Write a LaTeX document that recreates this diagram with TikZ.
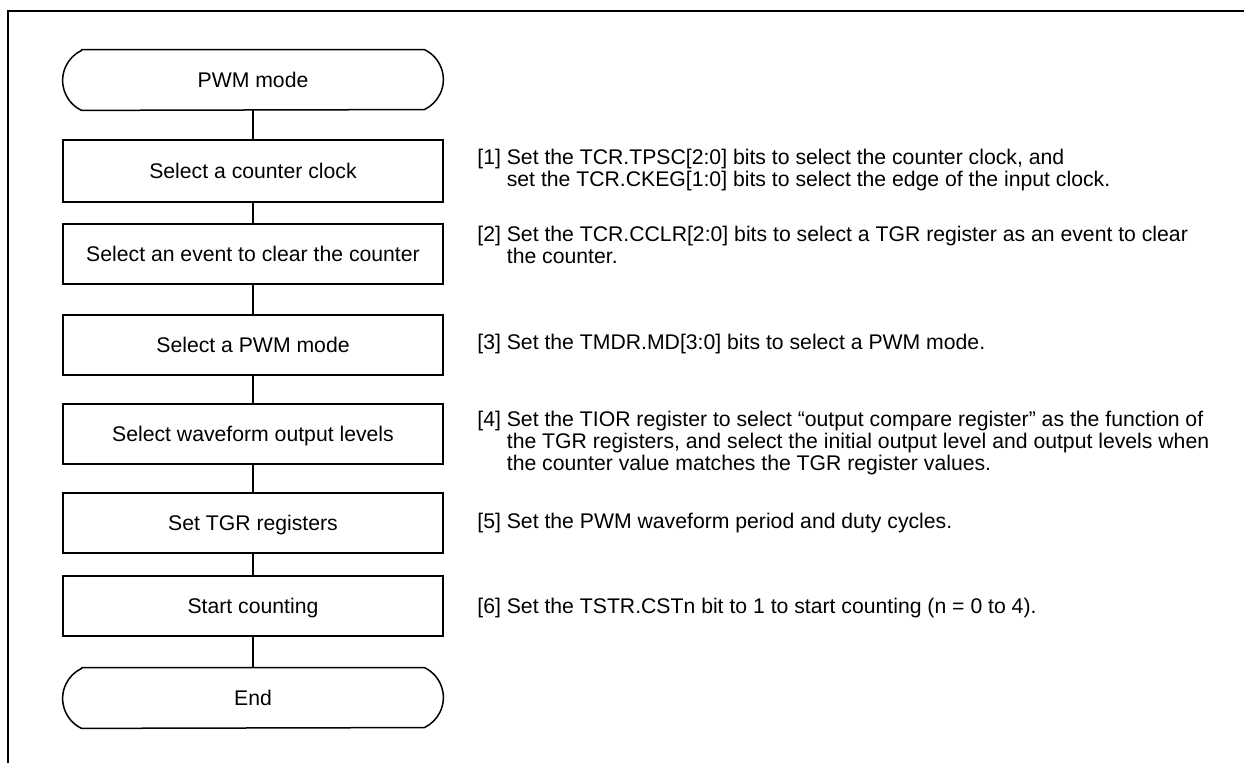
\documentclass[tikz,border=0pt]{standalone}
\usepackage{fontspec}
\setmainfont{Liberation Sans}
\begin{document}
\begin{tikzpicture}[x=0.5pt,y=-0.5pt,
  font=\fontsize{10.6}{11}\selectfont,
  stepbox/.style={draw,line width=0.75pt,minimum width=190pt,minimum height=30pt,inner sep=0pt,text height=0.716em,text depth=0pt},
  term/.style={minimum width=190pt,minimum height=30pt,inner sep=0pt,text height=0.716em,text depth=0pt},
  termline/.style={line width=0.75pt,line join=round},
  link/.style={line width=0.75pt},
  frameline/.style={line width=1.4pt,line join=miter},
  note/.style={anchor=north west,inner sep=0pt}]
\useasboundingbox (0,0) rectangle (1244,763);
\fill[white] (0,0) rectangle (1244,763);
% open frame (top and left)
\draw[frameline] (1244,11) -- (8,11) -- (8,763);

% flow nodes
\node[term] (start) at (253,80) {PWM mode};
\node[stepbox,minimum height=31pt] (b1) at (253,171) {Select a counter clock};
\node[stepbox] (b2) at (253,254) {Select an event to clear the counter};
\node[stepbox] (b3) at (253,345) {Select a PWM mode};
\node[stepbox] (b4) at (253,434) {Select waveform output levels};
\node[stepbox] (b5) at (253,523) {Set TGR registers};
\node[stepbox] (b6) at (253,606) {Start counting};
\node[term] (end) at (253,698) {End};

% terminator outlines
\foreach \t in {start,end}{
  \draw[termline] ([xshift=9.5pt]\t.north west) -- ([xshift=-9.5pt]\t.north east)
    arc[start angle=64.6,end angle=-64.6,radius=16.6pt]
    -- ([xshift=9.5pt]\t.south west)
    arc[start angle=244.6,end angle=115.4,radius=16.6pt] -- cycle;
}

% connectors
\draw[link] (start.south) -- (b1.north);
\draw[link] (b1.south) -- (b2.north);
\draw[link] (b2.south) -- (b3.north);
\draw[link] (b3.south) -- (b4.north);
\draw[link] (b4.south) -- (b5.north);
\draw[link] (b5.south) -- (b6.north);
\draw[link] (b6.south) -- (end.north);

% notes
\node[note] (n1) at (477,149) {\begin{tabular}{@{}l@{\ }l@{}}{[1]} & Set the TCR.TPSC[2:0] bits to select the counter clock, and\\
 & set the TCR.CKEG[1:0] bits to select the edge of the input clock.\end{tabular}};
\node[note] (n2) at (477,226) {\begin{tabular}{@{}l@{\ }l@{}}{[2]} & Set the TCR.CCLR[2:0] bits to select a TGR register as an event to clear\\
 & the counter.\end{tabular}};
\node[note] (n3) at (477,334) {\begin{tabular}{@{}l@{\ }l@{}}{[3]} & Set the TMDR.MD[3:0] bits to select a PWM mode.\end{tabular}};
\node[note] (n4) at (477,411) {\begin{tabular}{@{}l@{\ }l@{}}{[4]} & Set the TIOR register to select “output compare register” as the function of\\
 & the TGR registers, and select the initial output level and output levels when\\
 & the counter value matches the TGR register values.\end{tabular}};
\node[note] (n5) at (477,513) {\begin{tabular}{@{}l@{\ }l@{}}{[5]} & Set the PWM waveform period and duty cycles.\end{tabular}};
\node[note] (n6) at (477,598) {\begin{tabular}{@{}l@{\ }l@{}}{[6]} & Set the TSTR.CSTn bit to 1 to start counting (n = 0 to 4).\end{tabular}};
\end{tikzpicture}
\end{document}
